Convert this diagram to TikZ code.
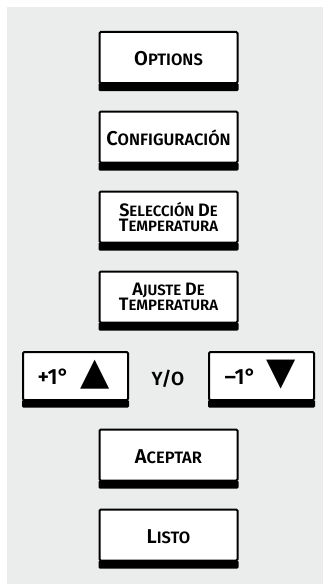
\documentclass[tikz,border=0pt]{standalone}
\usepackage{fontspec}
\newfontfamily\lblfont{Fira Sans}[UprightFont={* SemiBold}]
\newfontfamily\symfont{DejaVu Sans}
\definecolor{bg}{HTML}{EBECEC}
\newcommand\sct[2]{{\fontsize{20pt}{20pt}\selectfont#1}{\fontsize{16.5pt}{16.5pt}\selectfont#2}}
\newcommand\sctt[2]{{\fontsize{18pt}{18pt}\selectfont#1}{\fontsize{15pt}{15pt}\selectfont#2}}
\begin{document}
\begin{tikzpicture}[x=1pt,y=-1pt,
  btn/.style={draw=black, line width=2pt, fill=white, rounded corners=1.2pt,
    inner sep=0pt, outer sep=0pt, align=center,
    font=\lblfont\fontsize{15pt}{15.6pt}\selectfont},
  wide/.style={btn, minimum width=138pt, minimum height=51pt},
  small/.style={btn, minimum width=105pt, minimum height=48pt,
    text height=16.6pt, text depth=0pt},
  oneline/.style={text height=16.2pt, text depth=0pt},
  band/.style={fill=black, rounded corners=1.2pt},
  yostyle/.style={font=\lblfont\fontsize{19pt}{19pt}\selectfont, inner sep=0pt}]
\useasboundingbox (0,0) rectangle (323,586);
\fill[bg] (7,7) rectangle (323,584);
% main buttons
\node[wide, oneline] (opt) at (168.5,57.5) {\sct{O}{PTIONS}};
\node[wide, oneline] (conf) at (168.5,137) {\sct{C}{ONFIGURACIÓN}};
\node[wide] (sel) at (168.5,217) {\sctt{S}{ELECCIÓN} \sctt{D}{E}\\\sctt{T}{EMPERATURA}};
\node[wide] (adj) at (168.5,297) {\sctt{A}{JUSTE} \sctt{D}{E}\\\sctt{T}{EMPERATURA}};
\node[small] (up) at (75.5,376) {\hspace{-4pt}{\fontsize{22pt}{22pt}\selectfont +1°}\hspace{11pt}{\symfont\fontsize{38pt}{38pt}\selectfont ▲}};
\node[yostyle] (yo) at (168,379.3) {Y/O};
\node[small] (down) at (261.5,376) {\hspace{-3pt}{\fontsize{22pt}{22pt}\selectfont –1°}\hspace{10pt}{\symfont\fontsize{38pt}{38pt}\selectfont ▼}};
\node[wide, oneline] (acc) at (168.5,455) {\sct{A}{CEPTAR}};
\node[wide, oneline] (lis) at (168.5,535) {\sct{L}{ISTO}};
% bottom bands
\foreach \n in {opt,conf,sel,adj,acc,lis}
  \fill[band] ([xshift=-1pt]\n.south west) rectangle ([xshift=1pt,yshift=-8pt]\n.south east);
\foreach \n in {up,down}
  \fill[band] ([xshift=-1pt]\n.south west) rectangle ([xshift=1pt,yshift=-7.5pt]\n.south east);
\end{tikzpicture}
\end{document}
